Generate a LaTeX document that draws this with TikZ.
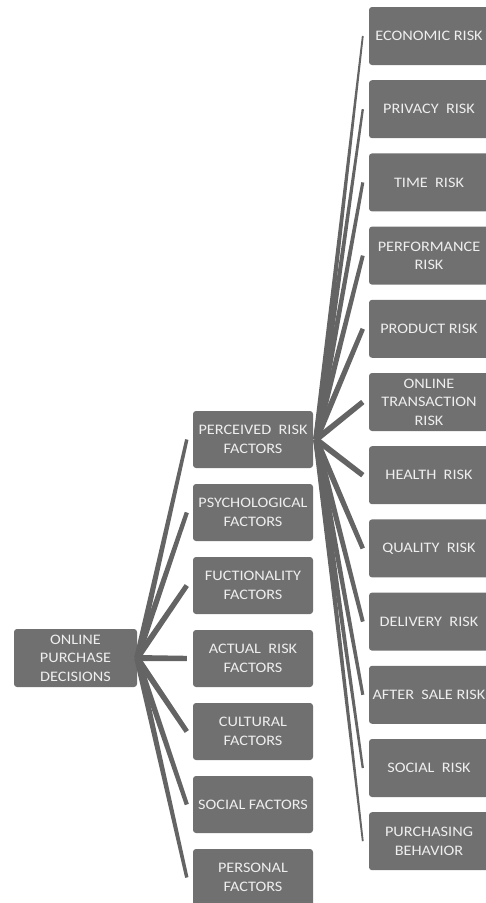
\documentclass[tikz,border=0pt]{standalone}
\usepackage{fontspec}
\setmainfont{Carlito}[FakeStretch=1.12]
\usetikzlibrary{calc}
\definecolor{boxgray}{RGB}{112,112,112}
\definecolor{linegray}{RGB}{100,100,100}
\definecolor{txtgray}{RGB}{238,238,238}
\tikzset{
  catbox/.style={fill=boxgray, rounded corners=3pt, minimum width=120pt, minimum height=57pt,
    inner sep=0pt, align=center, text=txtgray, font=\fontsize{14.5}{18.5}\selectfont},
  riskbox/.style={catbox, minimum height=58pt},
}
% #1 from, #2 to, #3 half width at start, #4 half width at end
\newcommand\taperlink[4]{%
  \fill[linegray] ($(#1)!#3!90:(#2)$) -- ($(#2)!#4!-90:(#1)$) -- ($(#2)!#4!90:(#1)$) -- ($(#1)!#3!-90:(#2)$) -- cycle;}
\begin{document}
\begin{tikzpicture}[x=1pt,y=-1pt]
\useasboundingbox (0,0) rectangle (486,903);
\clip (0,0) rectangle (486,903);
% root
\node[catbox, minimum width=123pt, minimum height=58pt] (root) at (75.5,658) {ONLINE\\PURCHASE\\DECISIONS};
% middle column
\node[catbox] (m1) at (253,439.5) {PERCEIVED\ \ RISK\\FACTORS};
\node[catbox] (m2) at (253,512.5) {PSYCHOLOGICAL\\FACTORS};
\node[catbox] (m3) at (253,585.5) {FUCTIONALITY\\FACTORS};
\node[catbox] (m4) at (253,658.5) {ACTUAL\ \ RISK\\FACTORS};
\node[catbox] (m5) at (253,731.5) {CULTURAL\\FACTORS};
\node[catbox] (m6) at (253,804.5) {SOCIAL FACTORS};
\node[catbox] (m7) at (253,877.5) {PERSONAL\\FACTORS};
% right column
\node[riskbox] (r1) at (429,36) {ECONOMIC RISK};
\node[riskbox] (r2) at (429,109.2) {PRIVACY\ \ RISK};
\node[riskbox] (r3) at (429,182.4) {TIME\ \ RISK};
\node[riskbox] (r4) at (429,255.6) {PERFORMANCE\\RISK};
\node[riskbox] (r5) at (429,328.8) {PRODUCT RISK};
\node[riskbox] (r6) at (429,402) {ONLINE\\TRANSACTION\\RISK};
\node[riskbox] (r7) at (429,475.2) {HEALTH\ \ RISK};
\node[riskbox] (r8) at (429,548.4) {QUALITY\ \ RISK};
\node[riskbox] (r9) at (429,621.6) {DELIVERY\ \ RISK};
\node[riskbox] (r10) at (429,694.8) {AFTER\ \ SALE RISK};
\node[riskbox] (r11) at (429,768) {SOCIAL\ \ RISK};
\node[riskbox] (r12) at (429,841.2) {PURCHASING\\BEHAVIOR};
% connector anchor points
\coordinate (rs) at (root.east);
\coordinate (ps) at ($(m1.east)+(3,0)$);
\foreach \i in {1,...,7} {\coordinate (m\i e) at ($(m\i.west)+(-6,0)$);}
\foreach \i in {1,...,12} {\coordinate (r\i e) at ($(r\i.west)+(-6,0)$);}
% root to middle
\taperlink{rs}{m1e}{3pt}{1.7pt}
\taperlink{rs}{m2e}{3pt}{2.1pt}
\taperlink{rs}{m3e}{3pt}{2.5pt}
\taperlink{rs}{m4e}{3pt}{2.7pt}
\taperlink{rs}{m5e}{3pt}{2.5pt}
\taperlink{rs}{m6e}{3pt}{2.1pt}
\taperlink{rs}{m7e}{3pt}{1.7pt}
% perceived risk to right
\taperlink{ps}{r1e}{3pt}{0.9pt}
\taperlink{ps}{r2e}{3pt}{1.15pt}
\taperlink{ps}{r3e}{3pt}{1.55pt}
\taperlink{ps}{r4e}{3pt}{1.95pt}
\taperlink{ps}{r5e}{3pt}{2.3pt}
\taperlink{ps}{r6e}{3pt}{2.65pt}
\taperlink{ps}{r7e}{3pt}{2.65pt}
\taperlink{ps}{r8e}{3pt}{2.3pt}
\taperlink{ps}{r9e}{3pt}{1.95pt}
\taperlink{ps}{r10e}{3pt}{1.55pt}
\taperlink{ps}{r11e}{3pt}{1.15pt}
\taperlink{ps}{r12e}{3pt}{0.9pt}
\end{tikzpicture}
\end{document}
